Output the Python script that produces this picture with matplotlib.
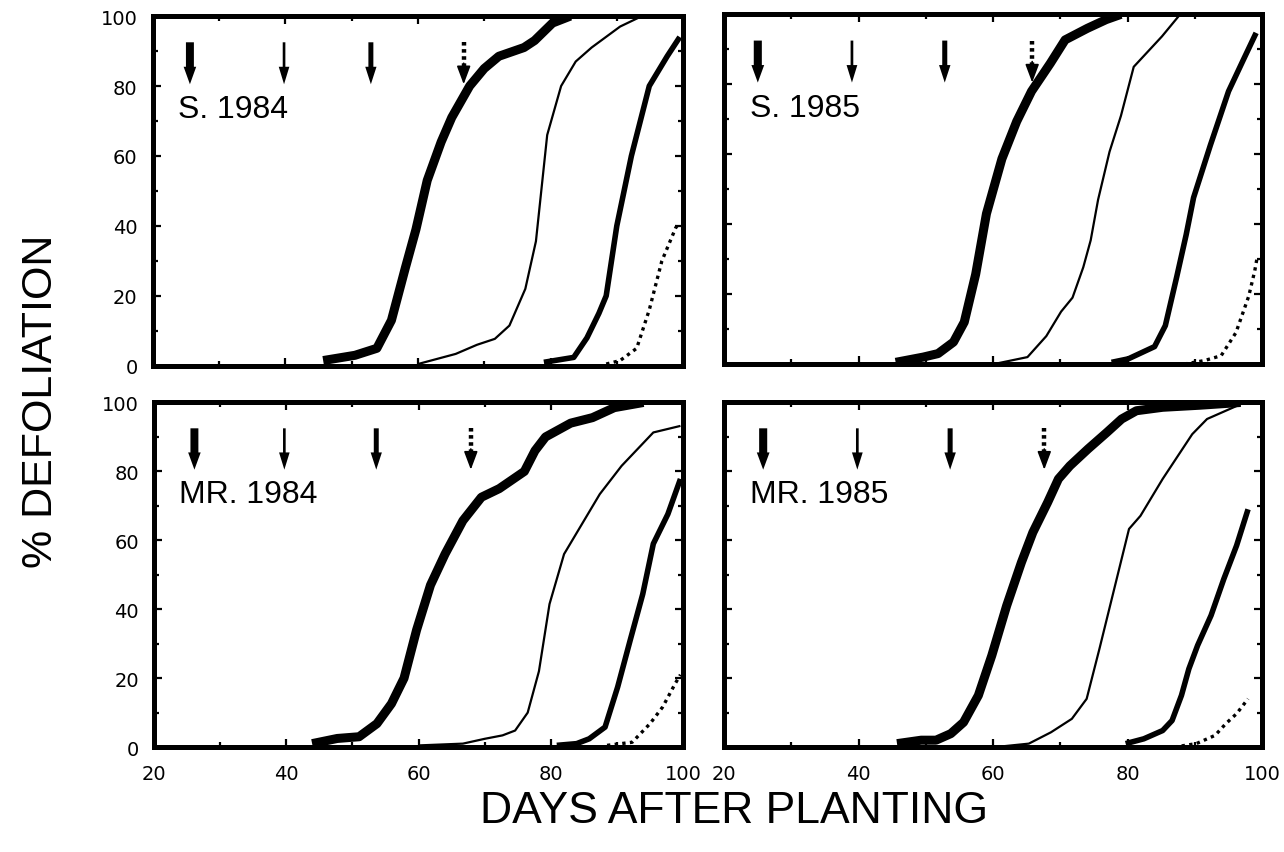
import matplotlib
matplotlib.use("Agg")
import matplotlib.pyplot as plt
from matplotlib.ticker import MultipleLocator

plt.rcParams['font.family'] = ['Liberation Sans', 'DejaVu Sans']

# S. 1984
s84_a_x = [45.7, 50.5, 53.8, 56.0, 58.1, 59.7, 61.4, 63.5, 65.1, 67.8, 70.0, 72.2, 76.0, 77.6, 80.3, 83.0]
s84_a_y = [1.5, 3, 5, 13, 28, 39, 53, 64, 71, 80, 85, 88.5, 91, 93, 98, 100]
s84_b_x = [60.0, 65.7, 68.9, 71.6, 73.8, 76.2, 77.8, 79.5, 81.6, 83.8, 86.2, 90.5, 93.8]
s84_b_y = [0.5, 3.4, 6, 7.7, 11.5, 22, 35.6, 66, 80, 87, 91, 97, 100]
s84_c_x = [79.0, 83.5, 85.5, 87.3, 88.4, 90.0, 92.2, 94.9, 97.6, 99.5]
s84_c_y = [1, 2.4, 8, 15, 20, 40, 60, 80, 88.5, 94]
s84_d_x = [88.4, 90.5, 93.0, 94.9, 96.8, 98.9, 99.5]
s84_d_y = [0.5, 1.5, 5, 16, 30, 39.5, 41]
s84_arrows = [25.6, 39.8, 52.9, 66.9]

# S. 1985
s85_a_x = [45.5, 49.6, 51.8, 54.1, 55.7, 57.4, 59.0, 61.3, 63.5, 65.7, 68.5, 70.7, 74.0, 76.8, 79.0]
s85_a_y = [0.5, 2, 3, 6.3, 12, 25.7, 43, 58.7, 69.4, 78, 86, 92.7, 96, 98.5, 100]
s85_b_x = [60.1, 65.1, 67.9, 70.1, 71.8, 73.4, 74.5, 75.6, 77.3, 79.0, 80.9, 85.1, 87.8]
s85_b_y = [0, 2, 8, 15, 19, 27.7, 35.4, 47, 60.7, 71, 85, 93.7, 100]
s85_c_x = [77.6, 80.1, 84.0, 85.6, 87.3, 88.7, 89.8, 92.3, 95.0, 97.2, 99.1]
s85_c_y = [0.5, 1.5, 5, 11, 25, 37, 47.6, 62.6, 78, 87, 94.7]
s85_d_x = [88.4, 91.4, 93.9, 96.1, 98.0, 98.9, 99.3]
s85_d_y = [0, 1, 2.4, 9, 19.4, 26.7, 31]
s85_arrows = [25.0, 39.0, 52.8, 65.8]

# MR. 1984
mr84_a_x = [43.9, 47.7, 51.0, 53.7, 55.9, 57.8, 59.7, 61.8, 64.0, 66.7, 69.5, 72.2, 76.0, 77.6, 79.2, 83.0, 86.3, 89.6, 94.0]
mr84_a_y = [1, 2.5, 3, 6.8, 12.6, 20, 34, 47, 56, 65.7, 72.5, 75, 80, 86, 90, 94, 95.6, 98.5, 100]
mr84_b_x = [60.2, 66.7, 70.0, 72.7, 74.6, 76.5, 78.2, 79.8, 82.0, 84.7, 87.4, 90.7, 95.5, 99.6]
mr84_b_y = [0.5, 1, 2.4, 3.4, 4.8, 10, 22, 41.5, 56, 64.7, 73.4, 81.6, 91.3, 93.2]
mr84_c_x = [80.9, 83.9, 85.8, 88.2, 90.1, 92.0, 93.9, 95.5, 97.7, 99.6]
mr84_c_y = [0.5, 1, 2.4, 5.8, 17.4, 31, 44.4, 59, 67.6, 77.8]
mr84_d_x = [88.5, 92.3, 95.0, 96.9, 98.8, 99.6]
mr84_d_y = [0.5, 1.4, 6.8, 11.6, 18.4, 21]
mr84_arrows = [26.1, 39.7, 53.6, 67.9]

# MR. 1985
mr85_a_x = [45.7, 49.3, 51.5, 53.7, 55.6, 57.8, 59.8, 62.0, 64.2, 65.9, 68.1, 69.7, 71.4, 74.1, 76.9, 79.1, 81.3, 85.2, 90.7, 96.8]
mr85_a_y = [1, 2, 2, 3.9, 7.2, 15, 26.6, 41, 53.6, 62.3, 71, 77.8, 81.6, 86.5, 91.3, 95.2, 97.6, 98.6, 99.2, 100]
mr85_b_x = [60.3, 65.3, 68.6, 71.7, 73.9, 75.8, 78.0, 80.2, 81.9, 85.2, 89.6, 91.8, 96.8]
mr85_b_y = [0, 1, 4.3, 8.2, 14, 28.5, 45.9, 63.3, 67.1, 77.8, 90.8, 95.2, 99.5]
mr85_c_x = [79.7, 82.4, 85.2, 86.6, 88.0, 89.1, 90.4, 92.4, 94.3, 96.2, 97.9]
mr85_c_y = [1, 2.4, 4.8, 7.7, 15, 22.7, 29.5, 38.2, 48.8, 58.5, 69]
mr85_d_x = [86.9, 90.2, 93.0, 94.6, 96.2, 97.9]
mr85_d_y = [0, 1, 3.4, 6.8, 9.7, 14]
mr85_arrows = [25.8, 39.8, 53.6, 67.6]

panels = [
    ("S. 1984", [(s84_a_x, s84_a_y), (s84_b_x, s84_b_y), (s84_c_x, s84_c_y), (s84_d_x, s84_d_y)], s84_arrows),
    ("S. 1985", [(s85_a_x, s85_a_y), (s85_b_x, s85_b_y), (s85_c_x, s85_c_y), (s85_d_x, s85_d_y)], s85_arrows),
    ("MR. 1984", [(mr84_a_x, mr84_a_y), (mr84_b_x, mr84_b_y), (mr84_c_x, mr84_c_y), (mr84_d_x, mr84_d_y)], mr84_arrows),
    ("MR. 1985", [(mr85_a_x, mr85_a_y), (mr85_b_x, mr85_b_y), (mr85_c_x, mr85_c_y), (mr85_d_x, mr85_d_y)], mr85_arrows),
]

# line styles for the four curves: very thick, thin, thick, dotted
styles = [dict(lw=6.5), dict(lw=1.6), dict(lw=4.0), dict(lw=2.4, ls=(0, (1, 1.3)))]
# arrow shaft widths / head widths in days
shaft_w = [1.2, 0.4, 0.75]
head_w = [1.9, 1.6, 1.7]

boxes = [
    [0.119, 0.570, 0.413, 0.410],
    [0.564, 0.572, 0.419, 0.410],
    [0.120, 0.123, 0.412, 0.404],
    [0.564, 0.123, 0.419, 0.404],
]

fig = plt.figure(figsize=(12.84, 8.53), dpi=100)

for i, (name, curves, arrows) in enumerate(panels):
    ax = fig.add_axes(boxes[i])
    for (x, y), st in zip(curves, styles):
        ax.plot(x, y, color='black', solid_joinstyle='round', solid_capstyle='butt', **st)

    tip, top = 80.5, 92.5
    for j, ax_x in enumerate(arrows):
        if j < 3:
            ax.arrow(ax_x, top, 0, tip - top, width=shaft_w[j], head_width=head_w[j],
                     head_length=5, length_includes_head=True, fc='black', ec='black', lw=0)
        else:
            ax.plot([ax_x, ax_x], [top, tip + 4], color='black', lw=3.2, ls=(0, (0.8, 0.8)))
            ax.annotate('', xy=(ax_x, tip), xytext=(ax_x, tip + 6),
                        arrowprops=dict(arrowstyle='-|>,head_length=0.8,head_width=0.3',
                                        lw=1.2, color='black', mutation_scale=14,
                                        shrinkA=0, shrinkB=0))

    ax.text(23.8, 71, name, fontsize=23, ha='left', va='baseline')

    ax.set_xlim(20, 100)
    ax.set_ylim(0, 100)
    ax.xaxis.set_major_locator(MultipleLocator(20))
    ax.xaxis.set_minor_locator(MultipleLocator(10))
    ax.yaxis.set_major_locator(MultipleLocator(20))
    ax.yaxis.set_minor_locator(MultipleLocator(10))
    ax.tick_params(which='both', direction='in', top=True, right=True, width=1.6)
    ax.tick_params(which='major', length=6)
    ax.tick_params(which='minor', length=3.5)
    ax.tick_params(axis='y', pad=11)
    ax.tick_params(axis='x', pad=12)
    for lab in ax.get_xticklabels() + ax.get_yticklabels():
        lab.set_fontfamily('DejaVu Sans')
        lab.set_fontsize(14)
    if i % 2 == 1:
        ax.tick_params(axis='y', labelleft=False)
    if i < 2:
        ax.tick_params(axis='x', labelbottom=False)
    for sp in ax.spines.values():
        sp.set_linewidth(3.6)

fig.text(0.032, 0.529, '% DEFOLIATION', rotation=90, fontsize=31, ha='center', va='center')
fig.text(0.572, 0.035, 'DAYS AFTER PLANTING', fontsize=32, ha='center', va='baseline')

fig.savefig('out.png', dpi=100)
